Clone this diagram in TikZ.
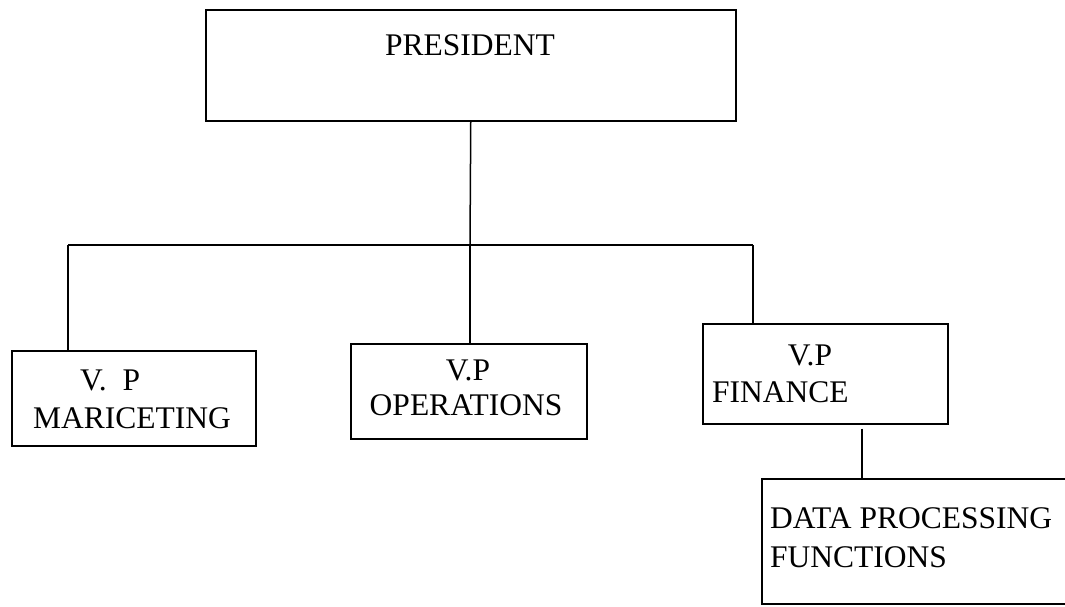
\documentclass[tikz,border=0pt]{standalone}
\usepackage{fontspec}
\setmainfont{Liberation Serif}
\begin{document}
\begin{tikzpicture}[x=1pt,y=-1pt,
  box/.style={draw, line width=1.5pt, inner sep=0pt, anchor=north west},
  conn/.style={line width=1.5pt},
  lbl/.style={font=\fontsize{31.5}{37}\selectfont, inner sep=0pt}]
\useasboundingbox (0,0) rectangle (1065,606);
\clip (0,0) rectangle (1065,606);
% boxes
\node[box, minimum width=530pt, minimum height=111pt] (pres) at (205,9) {};
\node[box, minimum width=244pt, minimum height=95pt] (mkt) at (11,350) {};
\node[box, minimum width=236pt, minimum height=95pt] (ops) at (350,343) {};
\node[box, minimum width=245pt, minimum height=100pt] (fin) at (702,323) {};
\node[box, minimum width=450pt, minimum height=125pt] (dp) at (761,478) {};
% texts
\node[lbl] (tpres) at (470,45) {PRESIDENT};
\node[lbl, anchor=west] (tmk1) at (80,380) {V.\ \ P};
\node[lbl, anchor=west] (tmk2) at (33,418) {MARICETING};
\node[lbl] (top1) at (468,370) {V.P};
\node[lbl] (top2) at (466,405) {OPERATIONS};
\node[lbl] (tfi1) at (810,355) {V.P};
\node[lbl, anchor=west] (tfi2) at (712,392) {FINANCE};
\node[lbl, anchor=west] (tdp1) at (770,518) {DATA PROCESSING};
\node[lbl, anchor=west] (tdp2) at (770,557) {FUNCTIONS};
% connectors
\coordinate (bus) at (470,245);
\coordinate (busL) at (68,245);
\coordinate (busR) at (753,245);
\coordinate (fd) at (862,0);
\draw[conn] (pres.south) -- (bus);
\draw[conn] (busL) -- (busR);
\draw[conn] (busL) -- (busL |- mkt.north);
\draw[conn] (bus) -- (bus |- ops.north);
\draw[conn] (busR) -- (busR |- fin.north);
\draw[conn] ([yshift=-4pt]fd |- fin.south) -- (fd |- dp.north);
\end{tikzpicture}
\end{document}
